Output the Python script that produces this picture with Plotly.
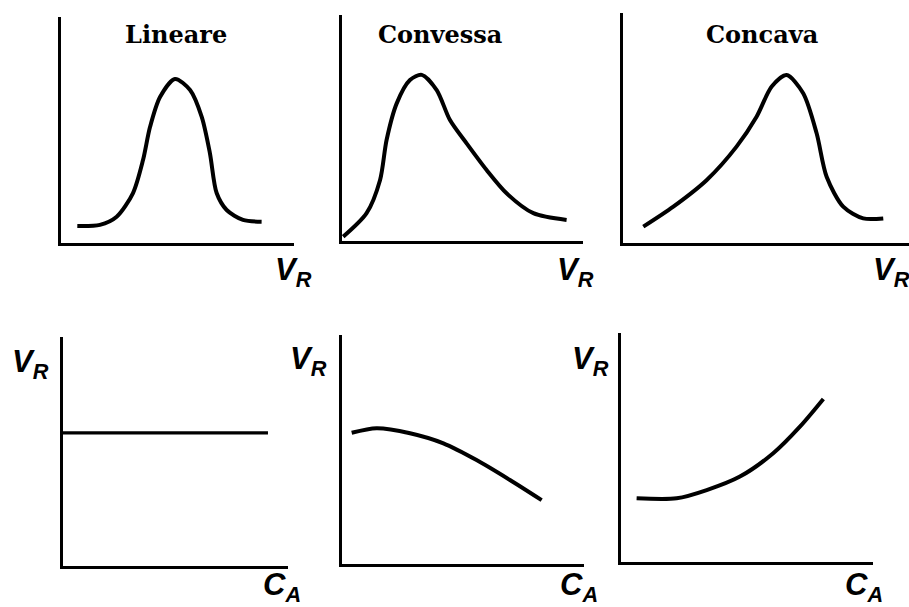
import plotly.graph_objects as go

W, H = 909, 607

# --- curve data (x, y on a 0-10 scale for every panel) ---
lin_x = [0.70, 1.67, 2.39, 3.09, 3.52, 3.82, 4.25, 4.89, 5.54, 6.04, 6.39, 6.68, 7.11, 7.81, 8.61]
lin_y = [0.75, 0.80, 1.16, 2.21, 3.67, 5.13, 6.46, 7.26, 6.77, 5.58, 3.98, 2.21, 1.46, 1.02, 0.94]

conv_x = [0.05, 1.02, 1.58, 1.85, 2.27, 2.82, 3.31, 3.93, 4.48, 5.17, 6.00, 6.83, 7.94, 9.32]
conv_y = [0.19, 1.23, 2.70, 4.47, 6.09, 7.12, 7.35, 6.68, 5.35, 4.32, 3.14, 2.11, 1.23, 0.93]

conc_x = [0.71, 1.76, 2.93, 3.97, 4.67, 5.20, 5.72, 6.30, 6.77, 7.12, 7.70, 8.40, 9.10]
conc_y = [0.71, 1.58, 2.74, 4.19, 5.49, 6.80, 7.30, 6.51, 4.77, 2.88, 1.58, 1.07, 1.07]

rate_lin_x = [0.0, 9.11]
rate_lin_y = [5.81, 5.81]

rate_conv_x = [0.40, 1.43, 2.81, 4.19, 5.56, 6.94, 8.25]
rate_conv_y = [5.73, 5.93, 5.71, 5.27, 4.54, 3.67, 2.79]

rate_conc_x = [0.62, 2.21, 3.40, 4.72, 6.04, 7.10, 8.03]
rate_conc_y = [2.78, 2.78, 3.14, 3.73, 4.75, 5.91, 7.12]

titles = ["Lineare", "Convessa", "Concava"]
top_xlabel = "V<sub>R</sub>"
bottom_xlabel = "C<sub>A</sub>"
bottom_ylabel = "V<sub>R</sub>"

# panel boxes in pixels: (left, right, top, bottom)
boxes = [
    (61, 294, 17, 243),
    (342, 583, 15, 241),
    (623, 909, 13, 243),
    (63, 288, 337, 566),
    (342, 584, 335, 564),
    (621, 873, 333, 562),
]

series = [
    (lin_x, lin_y),
    (conv_x, conv_y),
    (conc_x, conc_y),
    (rate_lin_x, rate_lin_y),
    (rate_conv_x, rate_conv_y),
    (rate_conc_x, rate_conc_y),
]

fig = go.Figure()
layout = {}
for i, ((l, r, t, b), (xs, ys)) in enumerate(zip(boxes, series)):
    n = "" if i == 0 else str(i + 1)
    xa, ya = "xaxis" + n, "yaxis" + n
    ax_common = dict(
        range=[0, 10], showgrid=False, zeroline=False, showticklabels=False,
        ticks="", showline=True, linecolor="black", linewidth=3, fixedrange=True,
    )
    layout[xa] = dict(ax_common, domain=[l / W, r / W], anchor="y" + n)
    layout[ya] = dict(ax_common, domain=[1 - b / H, 1 - t / H], anchor="x" + n)
    width = 3.2 if i == 3 else 4
    fig.add_trace(go.Scatter(
        x=xs, y=ys, xaxis="x" + n, yaxis="y" + n, mode="lines",
        line=dict(color="black", width=width, shape="spline", smoothing=0.8),
        hoverinfo="skip", showlegend=False,
    ))

fig.update_layout(
    width=W, height=H, margin=dict(l=0, r=0, t=0, b=0),
    paper_bgcolor="white", plot_bgcolor="white", showlegend=False,
    **layout,
)

title_font = dict(family="DejaVu Serif", size=24, color="black")
label_font = dict(family="Liberation Sans", size=31, color="black")


def label(text):
    return "<b><i>" + text.replace("<sub>", "<sub><b><i>").replace("</sub>", "</i></b></sub>") + "</i></b>"


# panel titles
for (cx, cy), txt in zip([(176, 34), (440, 34), (762, 34)], titles):
    fig.add_annotation(x=cx / W, y=1 - cy / H, xref="paper", yref="paper",
                       text="<b>" + txt + "</b>", showarrow=False, font=title_font,
                       xanchor="center", yanchor="middle")

# x-axis labels
for (lx, ly), txt in zip([(273, 272), (555, 272), (871, 272),
                          (261, 587), (558, 587), (843, 587)],
                         [top_xlabel] * 3 + [bottom_xlabel] * 3):
    fig.add_annotation(x=lx / W, y=1 - ly / H, xref="paper", yref="paper",
                       text=label(txt), showarrow=False, font=label_font,
                       xanchor="left", yanchor="middle")

# y-axis labels of the rate panels
for lx, ly in [(10, 364), (288, 361), (570, 361)]:
    fig.add_annotation(x=lx / W, y=1 - ly / H, xref="paper", yref="paper",
                       text=label(bottom_ylabel), showarrow=False, font=label_font,
                       xanchor="left", yanchor="middle")

fig.write_html("out.html")
